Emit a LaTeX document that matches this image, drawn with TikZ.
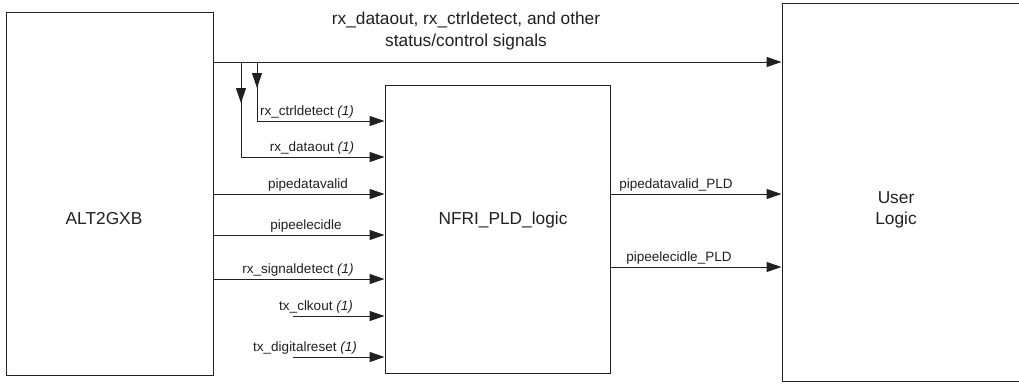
\documentclass[tikz,border=0pt]{standalone}
\usepackage{fontspec}
\setmainfont{Liberation Sans}
\usetikzlibrary{arrows.meta}
\definecolor{ink}{HTML}{231F20}
\begin{document}
\begin{tikzpicture}[x=1pt,y=-1pt,
  blk/.style={draw=ink,line width=1pt,rectangle,inner sep=0pt,text=ink,
    font=\fontsize{17.3}{21}\selectfont,align=center},
  wire/.style={draw=ink,line width=1pt},
  arr/.style={wire,-{Triangle[length=15pt,width=10pt]}},
  lab/.style={text=ink,font=\fontsize{13.5}{16}\selectfont,inner sep=0pt,anchor=base},
  big/.style={text=ink,font=\fontsize{17.3}{21.5}\selectfont,inner sep=0pt,align=center}]
\clip (0,0) rectangle (1019,384);
\fill[white] (0,0) rectangle (1019,384);
% boxes
\node[blk,minimum width=207pt,minimum height=363pt] (alt) at (109.5,193.5) {};
\node[big] (altt) at (104,219) {ALT2GXB};
\node[blk,minimum width=225pt,minimum height=288pt] (nfri) at (497.5,229) {};
\node[big] (nfrit) at (503,220) {NFRI\_PLD\_logic};
\node[blk,minimum width=260pt,minimum height=378pt] (user) at (912,192) {};
\node[big] (usert) at (896,210) {User\\Logic};
% top bus
\node[big] (toplab) at (466,31) {rx\_dataout, rx\_ctrldetect, and other\\status/control signals};
\draw[arr] (alt.east |- 0,62) -- (user.west |- 0,62);
\coordinate (b1) at (257,62);
\coordinate (b2) at (241,62);
\draw[wire] (b1) -- (257,121);
\draw[arr] (b1) -- (257,88);
\draw[wire] (b2) -- (241,157);
\draw[arr] (b2) -- (241,103);
\draw[arr] (257,121) -- (nfri.west |- 0,121);
\draw[arr] (241,157) -- (nfri.west |- 0,157);
% inputs to NFRI
\draw[arr] (alt.east |- 0,194) -- (nfri.west |- 0,194);
\draw[arr] (alt.east |- 0,235) -- (nfri.west |- 0,235);
\draw[arr] (alt.east |- 0,279) -- (nfri.west |- 0,279);
\coordinate (c1) at (293,316);
\coordinate (c2) at (293,357);
\draw[arr] (c1) -- (nfri.west |- c1);
\draw[arr] (c2) -- (nfri.west |- c2);
% labels
\node[lab] (l1) at (307,115) {rx\_ctrldetect \textit{(1)}};
\node[lab] (l2) at (312,151) {rx\_dataout \textit{(1)}};
\node[lab] (l3) at (308,188) {pipedatavalid};
\node[lab] (l4) at (306,229) {pipeelecidle};
\node[lab] (l5) at (298,273) {rx\_signaldetect \textit{(1)}};
\node[lab] (l6) at (316,310) {tx\_clkout \textit{(1)}};
\node[lab] (l7) at (305,351) {tx\_digitalreset \textit{(1)}};
% outputs
\draw[arr] (nfri.east |- 0,194) -- (user.west |- 0,194);
\draw[arr] (nfri.east |- 0,267) -- (user.west |- 0,267);
\node[lab] (o1) at (676,188) {pipedatavalid\_PLD};
\node[lab] (o2) at (679,261) {pipeelecidle\_PLD};
\end{tikzpicture}
\end{document}
